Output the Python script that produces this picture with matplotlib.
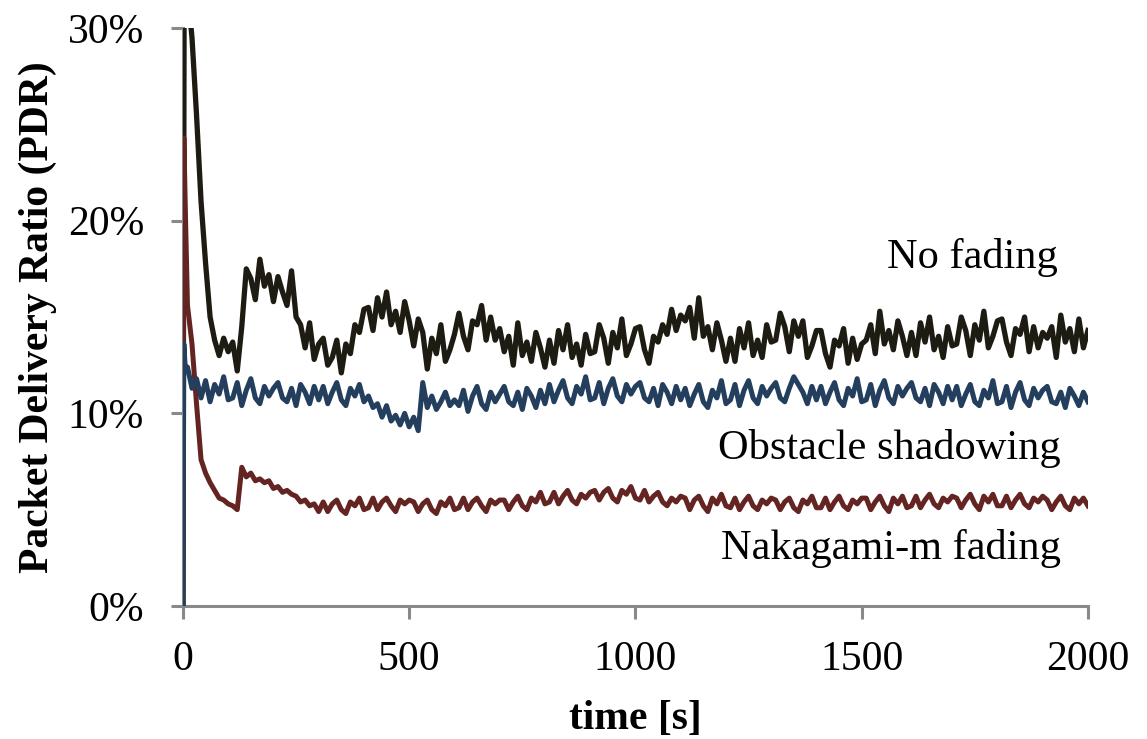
import matplotlib.pyplot as plt
from matplotlib.ticker import PercentFormatter

plt.rcParams['font.family'] = ['Liberation Serif', 'DejaVu Serif']

# time axis: a few early samples, then every 10 s
grid = list(range(10, 2001, 10))
t_nofade = [0, 3] + grid
t_shadow = [0, 2, 5] + grid
t_naka = [0, 2, 6] + grid

# PDR in percent
pdr_nofade = [0, 36] + [
    32.0, 29.5, 25.5, 21.0, 17.8, 15.0, 13.8, 13.0, 13.9, 13.2,
    13.7, 12.2, 14.5, 17.5, 17.0, 15.9, 18.0, 16.6, 17.2, 15.8,
    17.1, 16.3, 15.6, 17.4, 15.0, 14.6, 13.4, 14.7, 12.8, 13.6,
    13.9, 12.5, 12.9, 13.8, 12.1, 13.6, 13.1, 14.6, 14.2, 15.4,
    15.5, 14.3, 16.0, 15.0, 16.3, 14.6, 15.3, 14.2, 15.8, 14.8,
    13.5, 14.9, 14.2, 12.3, 13.9, 13.1, 14.6, 12.7, 13.3, 14.1,
    15.2, 14.0, 13.3, 14.8, 14.6, 15.6, 13.8, 15.0, 13.8, 14.4,
    13.2, 14.0, 12.5, 14.7, 13.0, 13.7, 12.7, 14.2, 13.4, 12.4,
    13.8, 12.6, 14.3, 13.3, 14.6, 12.9, 13.6, 12.5, 14.1, 13.1,
    13.2, 14.6, 13.9, 12.6, 14.2, 13.4, 14.9, 13.0, 13.6, 14.4,
    14.5, 13.3, 12.6, 14.0, 13.7, 14.6, 14.1, 15.4, 14.3, 15.1,
    14.8, 15.5, 13.9, 16.0, 14.0, 14.5, 13.3, 14.7, 13.8, 12.7,
    13.9, 12.7, 14.4, 13.4, 14.7, 13.0, 13.8, 12.9, 14.6, 13.7,
    13.8, 15.2, 14.5, 13.2, 14.8, 14.0, 14.8, 12.9, 13.5, 14.3,
    14.3, 13.1, 12.4, 13.8, 13.5, 14.4, 12.6, 13.9, 12.8, 13.6,
    13.8, 14.6, 13.1, 15.3, 13.6, 14.3, 13.3, 14.8, 14.0, 13.0,
    14.2, 13.0, 14.7, 13.7, 15.0, 13.3, 14.0, 12.9, 14.5, 13.5,
    13.6, 15.0, 14.3, 13.0, 14.6, 13.8, 15.3, 13.4, 14.0, 14.8,
    14.9, 13.7, 13.0, 14.4, 14.1, 15.0, 13.2, 14.5, 13.4, 14.2,
    13.9, 14.5, 12.9, 15.1, 13.7, 14.4, 13.2, 14.9, 13.4, 14.3,
]

pdr_shadow = [0, 13.6, 12.4] + [
    12.4, 11.3, 11.8, 10.8, 11.7, 10.6, 11.5, 11.0, 11.9, 10.7,
    10.8, 11.6, 10.4, 11.2, 11.8, 10.8, 10.5, 11.4, 10.9, 11.3,
    11.6, 10.8, 10.6, 11.3, 10.4, 11.5, 11.1, 10.5, 11.4, 10.7,
    11.4, 10.5, 11.1, 11.6, 10.7, 10.4, 11.3, 10.9, 11.5, 10.6,
    10.9, 10.3, 10.5, 9.8, 10.4, 9.6, 9.9, 9.4, 10.0, 9.3,
    9.8, 9.1, 11.6, 10.3, 10.9, 10.2, 10.6, 11.1, 10.4, 10.7,
    10.4, 11.2, 10.1, 10.9, 11.4, 10.5, 10.2, 11.1, 10.6, 11.0,
    11.4, 10.6, 10.4, 11.1, 10.2, 11.3, 10.9, 10.3, 11.2, 10.5,
    11.5, 10.6, 11.2, 11.7, 10.8, 10.5, 11.4, 11.0, 11.9, 10.7,
    10.8, 11.6, 10.5, 11.3, 11.8, 10.9, 10.6, 11.5, 11.0, 11.4,
    11.6, 10.8, 10.6, 11.3, 10.4, 11.5, 11.1, 10.5, 11.4, 10.7,
    11.3, 10.4, 11.0, 11.5, 10.6, 10.3, 11.2, 10.8, 11.7, 10.5,
    10.7, 11.5, 10.4, 11.2, 11.7, 10.8, 10.5, 11.4, 10.9, 11.3,
    11.6, 10.8, 10.6, 11.3, 11.9, 11.5, 11.1, 10.5, 11.4, 10.7,
    11.4, 10.5, 11.1, 11.6, 10.7, 10.4, 11.3, 10.9, 11.8, 10.6,
    10.7, 11.5, 10.4, 11.2, 11.7, 10.8, 10.5, 11.4, 10.9, 11.3,
    11.6, 10.8, 10.6, 11.3, 10.4, 11.5, 11.1, 10.5, 11.4, 10.7,
    11.4, 10.4, 11.0, 11.5, 10.6, 10.4, 11.2, 10.8, 11.7, 10.5,
    10.6, 11.4, 10.3, 11.1, 11.6, 10.7, 10.4, 11.3, 10.8, 11.2,
    11.4, 10.6, 10.5, 11.1, 10.3, 11.3, 10.9, 10.4, 11.1, 10.6,
]

pdr_naka = [0, 24.3, 19.8] + [
    15.6, 13.6, 10.5, 7.6, 6.9, 6.4, 6.0, 5.6, 5.5, 5.3,
    5.2, 5.0, 7.2, 6.7, 6.9, 6.5, 6.6, 6.4, 6.5, 6.1,
    6.2, 5.9, 6.0, 5.8, 5.7, 5.4, 5.5, 5.2, 5.3, 4.9,
    5.4, 4.9, 5.3, 5.5, 5.0, 4.8, 5.4, 5.2, 5.6, 5.0,
    5.1, 5.6, 5.0, 5.4, 5.6, 5.2, 4.9, 5.5, 5.3, 5.5,
    5.4, 4.9, 5.3, 5.5, 5.0, 4.8, 5.4, 5.2, 5.6, 5.0,
    5.1, 5.6, 5.0, 5.4, 5.6, 5.2, 4.9, 5.5, 5.3, 5.5,
    5.5, 5.0, 5.4, 5.7, 5.2, 5.0, 5.6, 5.4, 5.9, 5.3,
    5.4, 5.9, 5.3, 5.7, 6.0, 5.5, 5.3, 5.8, 5.6, 5.9,
    6.0, 5.5, 5.9, 6.1, 5.6, 5.4, 6.0, 5.8, 6.2, 5.6,
    5.5, 6.0, 5.4, 5.7, 5.9, 5.4, 5.2, 5.6, 5.4, 5.7,
    5.6, 5.0, 5.5, 5.7, 5.2, 4.9, 5.6, 5.3, 5.8, 5.2,
    5.1, 5.6, 5.0, 5.4, 5.7, 5.2, 5.0, 5.5, 5.3, 5.6,
    5.5, 5.0, 5.4, 5.6, 5.1, 4.9, 5.5, 5.3, 5.7, 5.1,
    5.1, 5.6, 5.0, 5.4, 5.7, 5.2, 5.0, 5.5, 5.3, 5.6,
    5.6, 5.0, 5.4, 5.7, 5.2, 4.9, 5.6, 5.3, 5.7, 5.1,
    5.2, 5.7, 5.1, 5.5, 5.8, 5.3, 5.1, 5.6, 5.4, 5.7,
    5.6, 5.1, 5.5, 5.8, 5.3, 5.0, 5.7, 5.4, 5.8, 5.2,
    5.2, 5.7, 5.1, 5.5, 5.8, 5.3, 5.1, 5.6, 5.4, 5.7,
    5.5, 5.0, 5.4, 5.7, 5.2, 5.0, 5.6, 5.3, 5.6, 5.2,
]

fig = plt.figure(figsize=(11.47, 7.39), dpi=100)
ax = fig.add_axes([0.1595, 0.18, 0.789, 0.782])

ax.plot(t_nofade, pdr_nofade, color='#1e1c12', lw=3.8, zorder=3)
ax.plot(t_naka, pdr_naka, color='#632422', lw=3.6, zorder=3)
ax.plot(t_shadow, pdr_shadow, color='#243f5e', lw=3.6, zorder=3)

ax.text(1933, 18.1, 'No fading', ha='right', va='center', fontsize=30.5)
ax.text(1940, 8.2, 'Obstacle shadowing', ha='right', va='center', fontsize=30.5)
ax.text(1940, 3.0, 'Nakagami-m fading', ha='right', va='center', fontsize=30.5)

ax.set_xlim(0, 2000)
ax.set_ylim(0, 30)
ax.set_xticks([0, 500, 1000, 1500, 2000])
ax.set_yticks([0, 10, 20, 30])
ax.yaxis.set_major_formatter(PercentFormatter(decimals=0))

for s in ['top', 'right']:
    ax.spines[s].set_visible(False)
for s in ['left', 'bottom']:
    ax.spines[s].set_color('#898989')
    ax.spines[s].set_linewidth(2.2)

ax.tick_params(axis='both', color='#898989', width=2.2, length=9, labelsize=30)
ax.tick_params(axis='y', pad=19)
ax.tick_params(axis='x', pad=16)

ax.set_xlabel('time [s]', fontsize=30, fontweight='bold', labelpad=15)
ax.set_ylabel('Packet Delivery Ratio (PDR)', fontsize=30, fontweight='bold', labelpad=8)

fig.savefig('out.png', dpi=100)
